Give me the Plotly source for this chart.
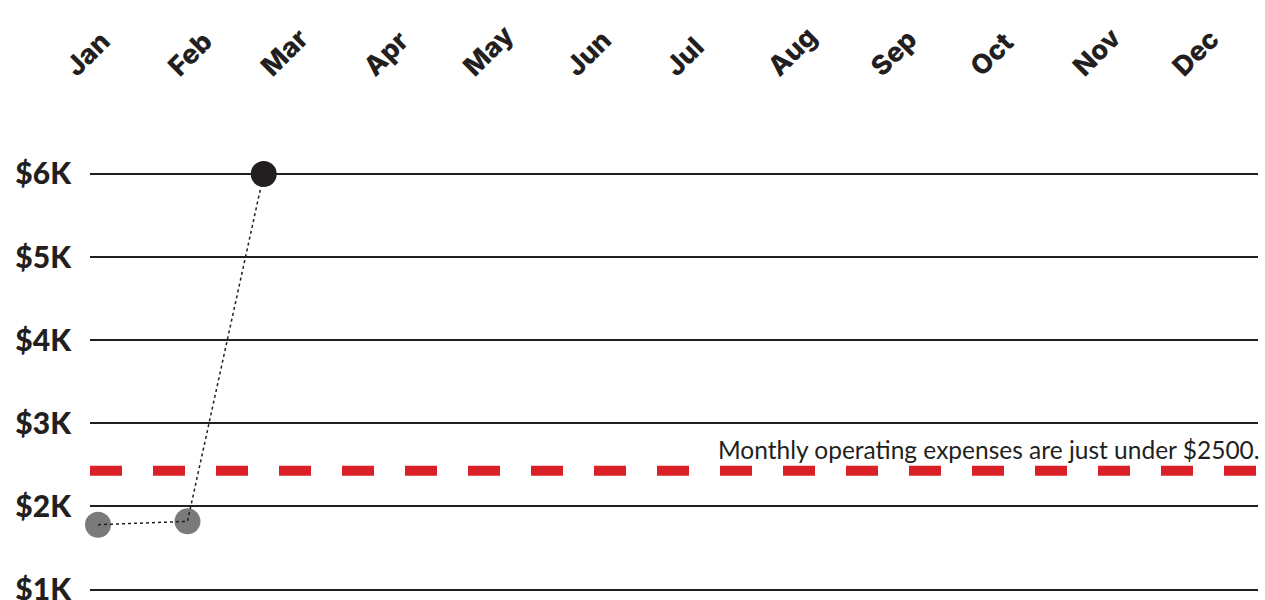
import plotly.graph_objects as go

# ---- data ----
month_labels = ["Jan", "Feb", "Mar", "Apr", "May", "Jun", "Jul", "Aug", "Sep", "Oct", "Nov", "Dec"]
month_starts = ["2019-%02d-01" % m for m in range(1, 13)]
point_dates = ["2019-01-03", "2019-01-30", "2019-02-22"]
point_values = [1780, 1820, 6000]
point_colors = ["#7a7a7a", "#7a7a7a", "#231f20"]
y_ticks = [1000, 2000, 3000, 4000, 5000, 6000]
y_tick_labels = ["$1K", "$2K", "$3K", "$4K", "$5K", "$6K"]
expense_level = 2430
note_text = "Monthly operating expenses are just under $2500."

fig = go.Figure()

fig.add_trace(go.Scatter(
    x=point_dates, y=point_values, mode="markers",
    marker=dict(size=26, color=point_colors, line=dict(width=0)),
    hoverinfo="skip", showlegend=False, cliponaxis=False,
))
fig.add_trace(go.Scatter(
    x=point_dates, y=point_values, mode="lines",
    line=dict(color="#231f20", width=1.5, dash="dot"),
    hoverinfo="skip", showlegend=False,
))

fig.add_shape(
    type="line", xref="paper", yref="y", x0=0, x1=1,
    y0=expense_level, y1=expense_level,
    line=dict(color="#da1f26", width=10, dash="32px,31px"),
    layer="above",
)

fig.add_annotation(
    xref="paper", yref="y", x=1.003, y=expense_level,
    text=note_text, showarrow=False, xanchor="right", yanchor="bottom",
    yshift=5,
    font=dict(family="Lato", size=24.5, color="#231f20"),
)

fig.update_layout(
    width=1265, height=600,
    margin=dict(l=90, r=7, t=95, b=0, autoexpand=False),
    paper_bgcolor="white", plot_bgcolor="white",
    xaxis=dict(
        type="date", side="top", automargin=False,
        range=["2018-12-31 14:00", "2019-12-19"],
        tickmode="array", tickvals=month_starts, ticktext=month_labels,
        tickangle=-45, ticklabelshift=-24, ticklabelstandoff=7,
        showgrid=False, zeroline=False, showline=False,
        ticks="", ticklabeloverflow="allow",
        tickfont=dict(family="Inter", size=27, color="#231f20", weight=800),
    ),
    yaxis=dict(
        automargin=False,
        range=[874, 6950],
        tickmode="array", tickvals=y_ticks, ticktext=y_tick_labels,
        showgrid=True, gridcolor="#231f20", gridwidth=2,
        zeroline=False, showline=False,
        ticks="outside", ticklen=12, tickcolor="rgba(0,0,0,0)",
        ticklabeloverflow="allow",
        tickfont=dict(family="Lato", size=30, color="#231f20", weight=900),
    ),
)

fig.write_html(
    "out.html",
    config={"displayModeBar": False},
    post_script="document.body.style.margin='0';document.body.style.overflow='hidden';",
)
